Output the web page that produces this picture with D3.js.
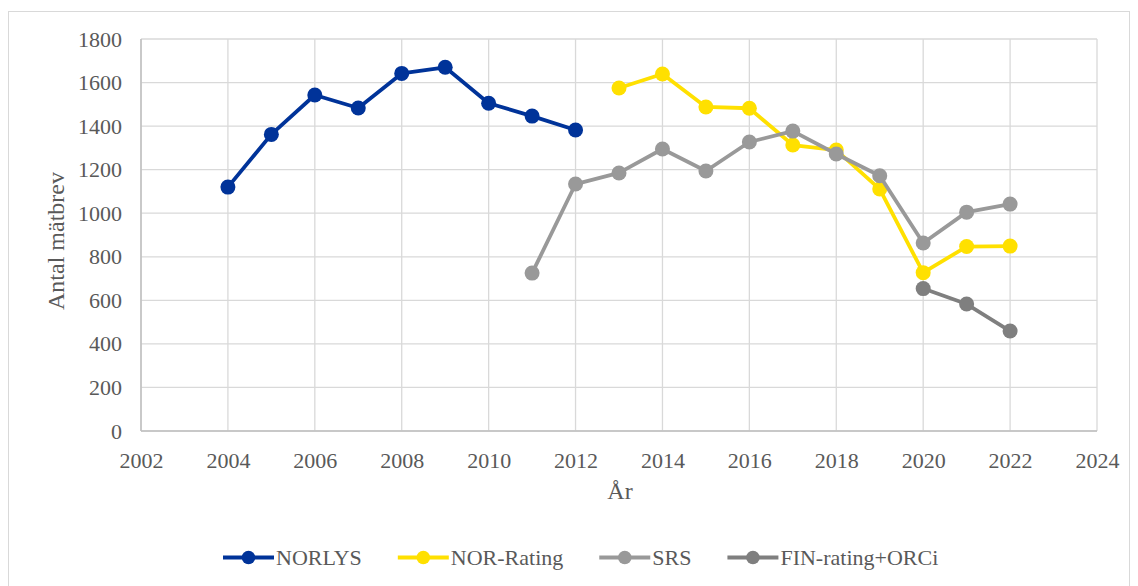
<!DOCTYPE html>
<html>
<head>
<meta charset="utf-8">
<script src="https://cdn.jsdelivr.net/npm/d3@7"></script>
<style>
  body { margin: 0; background: #fff; }
</style>
</head>
<body>
<div id="chart"></div>
<script>
// data
const norlysYears = [2004, 2005, 2006, 2007, 2008, 2009, 2010, 2011, 2012];
const norlysValues = [1120, 1362, 1543, 1483, 1642, 1670, 1505, 1446, 1382];

const norRatingYears = [2013, 2014, 2015, 2016, 2017, 2018, 2019, 2020, 2021, 2022];
const norRatingValues = [1575, 1639, 1488, 1482, 1313, 1290, 1111, 727, 847, 849];

const srsYears = [2011, 2012, 2013, 2014, 2015, 2016, 2017, 2018, 2019, 2020, 2021, 2022];
const srsValues = [725, 1134, 1185, 1295, 1194, 1327, 1377, 1272, 1172, 863, 1005, 1042];

const finYears = [2020, 2021, 2022];
const finValues = [654, 583, 459];

const xTicks = d3.range(2002, 2025, 2);
const yTicks = d3.range(0, 1801, 200);

const series = [
  { name: "NORLYS", years: norlysYears, values: norlysValues, color: "#003399" },
  { name: "NOR-Rating", years: norRatingYears, values: norRatingValues, color: "#ffe000" },
  { name: "SRS", years: srsYears, values: srsValues, color: "#999999" },
  { name: "FIN-rating+ORCi", years: finYears, values: finValues, color: "#7f7f7f" }
];

const width = 1138, height = 586;
const margin = { top: 39, right: 41, bottom: 155, left: 141 };
const serif = "'Liberation Serif', 'Times New Roman', serif";
const textColor = "#595959";

const svg = d3.select("#chart").append("svg")
  .attr("width", width)
  .attr("height", height);

// chart frame
svg.append("rect")
  .attr("x", 8.5).attr("y", 11.5)
  .attr("width", 1121).attr("height", 590)
  .attr("fill", "none")
  .attr("stroke", "#d9d9d9");

const x = d3.scaleLinear()
  .domain([2002, 2024])
  .range([margin.left, width - margin.right]);

const y = d3.scaleLinear()
  .domain([0, 1800])
  .range([height - margin.bottom, margin.top]);

// gridlines
svg.append("g")
  .selectAll("line")
  .data(xTicks)
  .join("line")
  .attr("x1", d => x(d)).attr("x2", d => x(d))
  .attr("y1", y(0)).attr("y2", y(1800))
  .attr("stroke", "#d9d9d9")
  .attr("stroke-width", 1.3);

svg.append("g")
  .selectAll("line")
  .data(yTicks)
  .join("line")
  .attr("x1", x(2002)).attr("x2", x(2024))
  .attr("y1", d => y(d)).attr("y2", d => y(d))
  .attr("stroke", "#d9d9d9")
  .attr("stroke-width", 1.3);

// axis lines
svg.append("line")
  .attr("x1", x(2002)).attr("x2", x(2024))
  .attr("y1", y(0)).attr("y2", y(0))
  .attr("stroke", "#bfbfbf").attr("stroke-width", 1.5);
svg.append("line")
  .attr("x1", x(2002)).attr("x2", x(2002))
  .attr("y1", y(0)).attr("y2", y(1800))
  .attr("stroke", "#bfbfbf").attr("stroke-width", 1.5);

// tick labels
const xAxis = svg.append("g")
  .attr("transform", `translate(0, ${y(0)})`)
  .call(d3.axisBottom(x).tickValues(xTicks).tickFormat(d3.format("d")).tickSize(0).tickPadding(21));
xAxis.select(".domain").remove();
xAxis.selectAll("text")
  .style("font-family", serif).style("font-size", "22px").attr("fill", textColor);

const yAxis = svg.append("g")
  .attr("transform", `translate(${x(2002)}, 0)`)
  .call(d3.axisLeft(y).tickValues(yTicks).tickFormat(d3.format("d")).tickSize(0).tickPadding(19));
yAxis.select(".domain").remove();
yAxis.selectAll("text")
  .style("font-family", serif).style("font-size", "22px").attr("fill", textColor);

// axis titles
svg.append("text")
  .attr("x", 620).attr("y", 499)
  .attr("text-anchor", "middle")
  .style("font-family", serif).style("font-size", "24px")
  .attr("fill", textColor)
  .text("År");

svg.append("text")
  .attr("transform", "rotate(-90)")
  .attr("x", -241)
  .attr("y", 64)
  .attr("text-anchor", "middle")
  .style("font-family", serif).style("font-size", "24px")
  .attr("fill", textColor)
  .text("Antal mätbrev");

const line = d3.line()
  .x(d => x(d[0]))
  .y(d => y(d[1]));

series.forEach(s => {
  const pts = s.years.map((yr, i) => [yr, s.values[i]]);
  svg.append("path")
    .datum(pts)
    .attr("d", line)
    .attr("fill", "none")
    .attr("stroke", s.color)
    .attr("stroke-width", 3.8)
    .attr("stroke-linejoin", "round");
  svg.append("g")
    .selectAll("circle")
    .data(pts)
    .join("circle")
    .attr("cx", d => x(d[0]))
    .attr("cy", d => y(d[1]))
    .attr("r", 7.5)
    .attr("fill", s.color);
});

// legend, laid out left to right from measured text widths
const legend = svg.append("g");
let lx = 223;
series.forEach(s => {
  const g = legend.append("g").attr("transform", `translate(${lx}, 557.5)`);
  g.append("line")
    .attr("x1", 0).attr("x2", 51)
    .attr("stroke", s.color).attr("stroke-width", 3.8);
  g.append("circle").attr("cx", 25.5).attr("r", 6.8).attr("fill", s.color);
  const t = g.append("text")
    .attr("x", 53).attr("y", 7)
    .style("font-family", serif).style("font-size", "22px")
    .attr("fill", textColor)
    .text(s.name);
  lx += 53 + t.node().getComputedTextLength() + 36;
});
</script>
</body>
</html>
